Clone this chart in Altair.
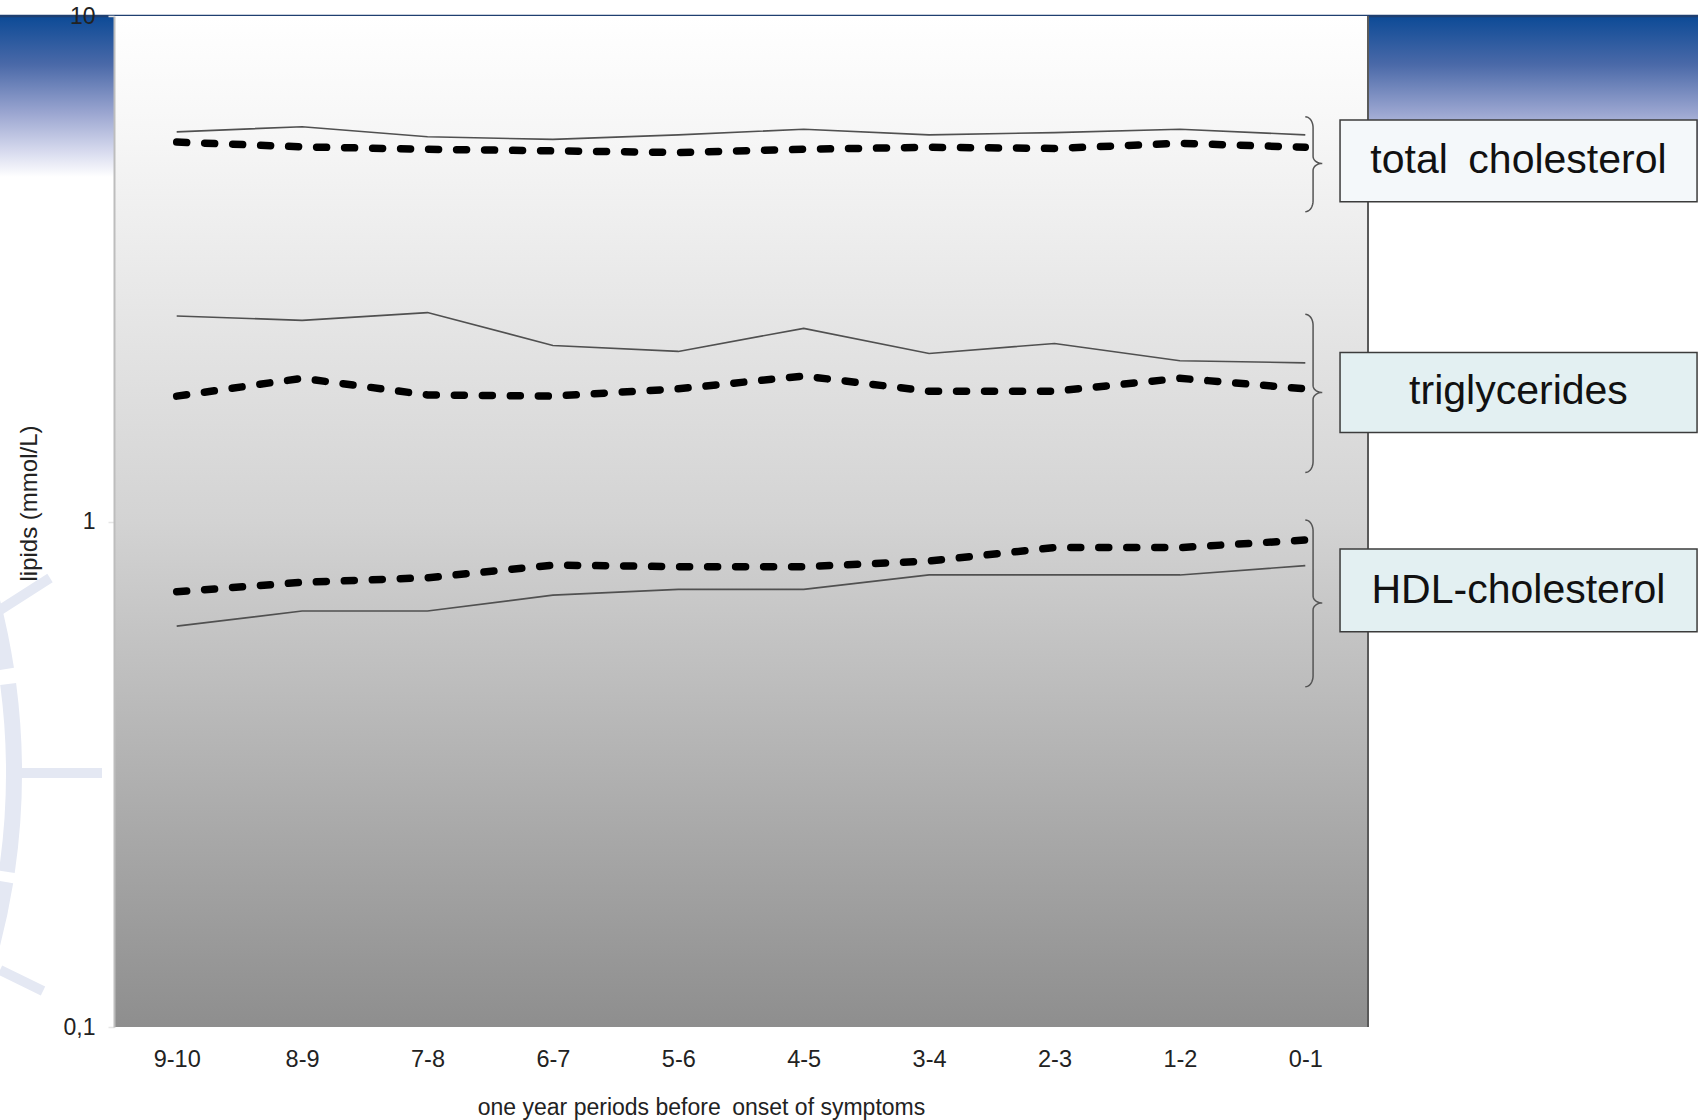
import altair as alt
import pandas as pd
import numpy as np

# ---------------- data ----------------
periods = ["9-10", "8-9", "7-8", "6-7", "5-6", "4-5", "3-4", "2-3", "1-2", "0-1"]

tc_solid = [5.90, 6.04, 5.77, 5.70, 5.82, 5.97, 5.82, 5.88, 5.97, 5.82]
tc_dashed = [5.63, 5.51, 5.45, 5.41, 5.37, 5.45, 5.50, 5.47, 5.60, 5.50]
tg_solid = [2.55, 2.50, 2.59, 2.23, 2.17, 2.41, 2.15, 2.25, 2.08, 2.06]
tg_dashed = [1.77, 1.92, 1.78, 1.77, 1.83, 1.94, 1.81, 1.81, 1.92, 1.83]
hdl_solid = [0.621, 0.665, 0.665, 0.715, 0.734, 0.734, 0.784, 0.784, 0.784, 0.818]
hdl_dashed = [0.726, 0.758, 0.774, 0.820, 0.814, 0.814, 0.835, 0.888, 0.888, 0.919]

labels = ["total\u2002cholesterol", "triglycerides", "HDL-cholesterol"]
label_centers = [5.17, 1.80, 0.730]
box_tops = [6.23, 2.16, 0.882]
box_bottoms = [4.29, 1.50, 0.605]
box_fills = ["#f4f8fa", "#e3f0f2", "#e3f0f2"]

brace_tops = [6.32, 2.57, 1.007]
brace_tips = [5.11, 1.80, 0.690]
brace_bottoms = [4.10, 1.25, 0.471]

y_ticks = [0.1, 1, 10]

# ---------------- geometry / style ----------------
W, H = 1254, 1011
PX_PER_DECADE = H / 2.0
BOX_X0, BOX_X1, TEXT_X = 9.277, 12.124, 10.70
BR_END, BR_STEM, BR_TIP = 9.0, 9.062, 9.135
R_END, R_TIP = 11.0 / PX_PER_DECADE, 7.0 / PX_PER_DECADE

rows = []
for name, s, d in [("tc", tc_solid, tc_dashed), ("tg", tg_solid, tg_dashed), ("hdl", hdl_solid, hdl_dashed)]:
    for i, p in enumerate(periods):
        rows.append({"idx": i, "period": p, "lipid": name, "kind": "solid", "value": s[i]})
        rows.append({"idx": i, "period": p, "lipid": name, "kind": "dashed", "value": d[i]})
df = pd.DataFrame(rows)

# brace paths
brows = []
t = np.linspace(0, np.pi / 2, 10)
for b, (top, tip, bot) in enumerate(zip(brace_tops, brace_tips, brace_bottoms)):
    lt, lm, lb = np.log10(top), np.log10(tip), np.log10(bot)
    a = BR_STEM - BR_END
    c = BR_TIP - BR_STEM
    pts = []
    tt = t[::-1]
    pts += list(zip(BR_STEM - a * (1 - np.cos(tt)), lt - R_END * (1 - np.sin(tt))))
    pts += list(zip(BR_STEM + c * (1 - np.cos(t)), lm + R_TIP * (1 - np.sin(t))))
    pts += list(zip(BR_STEM + c * (1 - np.cos(tt)), lm - R_TIP * (1 - np.sin(tt))))
    pts += list(zip(BR_STEM - a * (1 - np.cos(t)), lb + R_END * (1 - np.sin(t))))
    for k, (x, ly) in enumerate(pts):
        brows.append({"brace": b, "seq": k, "idx": float(x), "value": float(10 ** ly)})
bdf = pd.DataFrame(brows)

boxdf = pd.DataFrame({
    "label": labels, "x0": [BOX_X0] * 3, "x1": [BOX_X1] * 3, "xc": [TEXT_X] * 3,
    "top": box_tops, "bot": box_bottoms, "yc": label_centers, "fill": box_fills,
})

one = pd.DataFrame({"a": [0]})

x_scale = alt.Scale(domain=[-0.5, 9.5], nice=False, zero=False)
y_scale = alt.Scale(type="log", domain=[0.1, 10], nice=False)

label_js = "[" + ",".join("'" + p + "'" for p in periods) + "][datum.value]"

x_axis = alt.Axis(
    values=list(range(10)), labelExpr=label_js, domain=False, ticks=False, grid=False,
    labelFontSize=23.5, labelPadding=20, labelColor="#222222", labelFont="Liberation Sans",
    title="one year periods before\u2002onset of symptoms", titleFontSize=23, titleFontWeight="normal",
    titleColor="#222222", titleFont="Liberation Sans", titleX=587, titleY=87,
    titleAlign="center", titleBaseline="alphabetic",
)
y_axis = alt.Axis(
    values=y_ticks, labelExpr="replace(toString(datum.value), '.', ',')", grid=False,
    domainColor="#bdbdbd", domainWidth=2, tickColor="#e6e6e6", tickSize=6, tickWidth=1.5,
    labelFontSize=23, labelPadding=13, labelColor="#222222", labelFont="Liberation Sans",
    title="lipids (mmol/L)", titleFontSize=24, titleFontWeight="normal", titleColor="#222222",
    titleFont="Liberation Sans", titleX=-78, titleY=487, titleAngle=270,
    titleAlign="center", titleBaseline="alphabetic", zindex=1,
)


def X(field):
    return alt.X(field, scale=x_scale, axis=x_axis)


def Y(field):
    return alt.Y(field, scale=y_scale, axis=y_axis)


blue_grad = alt.Gradient(
    gradient="linear", x1=0, x2=0, y1=0, y2=1,
    stops=[alt.GradientStop(color="#0c4a96", offset=0),
           alt.GradientStop(color="#4a69a8", offset=0.3),
           alt.GradientStop(color="#9aa5d0", offset=0.6),
           alt.GradientStop(color="#d9dcef", offset=0.85),
           alt.GradientStop(color="#ffffff", offset=1)],
)
gray_grad = alt.Gradient(
    gradient="linear", x1=0, x2=0, y1=0, y2=1,
    stops=[alt.GradientStop(color="#ffffff", offset=0),
           alt.GradientStop(color="#f6f6f6", offset=0.12),
           alt.GradientStop(color="#d3d3d3", offset=0.5),
           alt.GradientStop(color="#8e8e8e", offset=1)],
)

base1 = alt.Chart(one)
blue_left = base1.mark_rect(fill=blue_grad).encode(
    x=alt.value(-114), x2=alt.value(0), y=alt.value(0), y2=alt.value(161))
blue_right = base1.mark_rect(fill=blue_grad).encode(
    x=alt.value(W), x2=alt.value(W + 330), y=alt.value(0), y2=alt.value(161))

top_rule = base1.mark_rule(color="#1f3f70", strokeWidth=2.5).encode(
    x=alt.value(-114), x2=alt.value(W + 330), y=alt.value(0))

WM = "#e4e8f3"
wm_layers = []
for t1, t2 in [(1.26, 1.418), (1.440, 1.716), (1.731, 1.93)]:
    wm_layers.append(base1.mark_arc(theta=t1, theta2=t2, radius=691, radius2=675, color=WM).encode(
        x=alt.value(-783), y=alt.value(757)))
for (xa, ya, xb, yb) in [(-94, 757, -12, 757), (-114, 594, -64, 562), (-114, 954, -71, 975)]:
    wm_layers.append(base1.mark_rule(color=WM, strokeWidth=10).encode(
        x=alt.value(xa), y=alt.value(ya), x2=alt.value(xb), y2=alt.value(yb)))

plot_bg = base1.mark_rect(fill=gray_grad).encode(
    x=alt.value(0), x2=alt.value(W), y=alt.value(0), y2=alt.value(H))

solid = alt.Chart(df[df.kind == "solid"]).mark_line(color="#505050", strokeWidth=1.6).encode(
    x=X("idx:Q"), y=Y("value:Q"), detail="lipid:N",
)
dashed = alt.Chart(df[df.kind == "dashed"]).mark_line(
    color="#000000", strokeWidth=7.5, strokeDash=[10, 18], strokeCap="round").encode(
    x=X("idx:Q"), y=Y("value:Q"), detail="lipid:N",
)

braces = alt.Chart(bdf).mark_line(color="#555555", strokeWidth=1.5).encode(
    x=X("idx:Q"), y=Y("value:Q"), detail="brace:N", order="seq:Q",
)

right_border = base1.mark_rule(color="#5a5a5a", strokeWidth=2).encode(
    x=alt.value(W), y=alt.value(0), y2=alt.value(H))

boxes = alt.Chart(boxdf).mark_rect(stroke="#3c3c3c", strokeWidth=1.5).encode(
    x=X("x0:Q"), x2="x1:Q", y=Y("top:Q"), y2="bot:Q",
    fill=alt.Fill("fill:N", scale=None),
)
texts = alt.Chart(boxdf).mark_text(fontSize=41, font="Liberation Sans", color="#111111",
                                   align="center", baseline="middle").encode(
    x=X("xc:Q"), y=Y("yc:Q"), text="label:N",
)

chart = alt.layer(
    blue_left, blue_right, top_rule, *wm_layers, plot_bg, solid, dashed, braces,
    right_border, boxes, texts,
).properties(
    width=W, height=H,
    autosize=alt.AutoSizeParams(type="none"),
    padding={"left": 114, "top": 16, "right": 330, "bottom": 93},
    background="#ffffff",
).configure_view(strokeWidth=0)

chart.save("out.html", embed_options={"renderer": "svg", "actions": False})
